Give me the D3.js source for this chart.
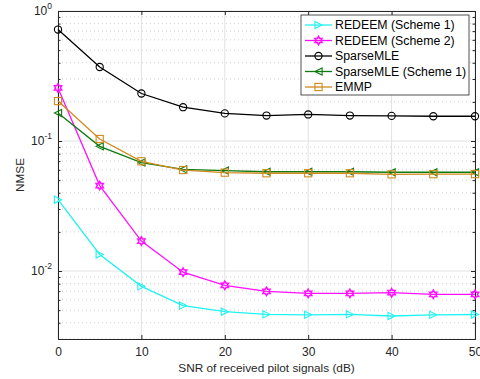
<!DOCTYPE html>
<html>
<head>
<meta charset="utf-8">
<script src="https://cdn.jsdelivr.net/npm/d3@7"></script>
<style>
  body { margin: 0; background: #fff; }
  svg text { font-family: "Liberation Sans", Arial, sans-serif; }
</style>
</head>
<body>
<svg id="chart" width="480" height="379"></svg>
<script>
var snr = [0, 5, 10, 15, 20, 25, 30, 35, 40, 45, 50];

var redeem1 = [0.0354, 0.0134, 0.00762, 0.00542, 0.00487, 0.00464, 0.0046, 0.00464, 0.00451, 0.0046, 0.00463];
var redeem2 = [0.256, 0.0454, 0.017, 0.0098, 0.00776, 0.00698, 0.00673, 0.00673, 0.00681, 0.00662, 0.00662];
var sparseMLE = [0.72, 0.371, 0.232, 0.182, 0.163, 0.157, 0.16, 0.157, 0.156, 0.155, 0.155];
var sparseMLE1 = [0.164, 0.091, 0.0682, 0.0606, 0.0592, 0.058, 0.058, 0.058, 0.0575, 0.0575, 0.0575];
var emmp = [0.203, 0.1036, 0.0698, 0.0598, 0.0571, 0.0565, 0.0565, 0.0565, 0.0554, 0.0556, 0.0556];

var xTicks = [0, 10, 20, 30, 40, 50];
var yDecades = [-2, -1, 0];

var series = [
  {name: "REDEEM (Scheme 1)", values: redeem1, color: "#22f2f2", marker: "triR"},
  {name: "REDEEM (Scheme 2)", values: redeem2, color: "#ff10ff", marker: "hex"},
  {name: "SparseMLE", values: sparseMLE, color: "#000000", marker: "circle"},
  {name: "SparseMLE (Scheme 1)", values: sparseMLE1, color: "#0f7a0f", marker: "triL"},
  {name: "EMMP", values: emmp, color: "#d08a1e", marker: "square"}
];

var svg = d3.select("#chart");
var margin = {top: 11, right: 5, bottom: 40, left: 58},
    width = +svg.attr("width") - margin.left - margin.right,
    height = +svg.attr("height") - margin.top - margin.bottom,
    g = svg.append("g").attr("transform", "translate(" + margin.left + "," + margin.top + ")");

var x = d3.scaleLinear().domain([0, 50]).range([0, width]);
var y = d3.scaleLog().domain([0.003, 1]).range([height, 0]);

// minor y values
var minor = [];
[-3, -2, -1].forEach(function(e) {
  for (var k = 2; k <= 9; k++) {
    var v = k * Math.pow(10, e);
    if (v >= 0.003 && v < 1) minor.push(v);
  }
});

// grid
g.append("g").selectAll("line").data(minor).enter().append("line")
  .attr("x1", 0).attr("x2", width)
  .attr("y1", function(d) { return y(d); }).attr("y2", function(d) { return y(d); })
  .attr("stroke", "#d0d0d0").attr("stroke-width", 1).attr("stroke-dasharray", "1,3");

g.append("g").selectAll("line").data(yDecades).enter().append("line")
  .attr("x1", 0).attr("x2", width)
  .attr("y1", function(d) { return y(Math.pow(10, d)); }).attr("y2", function(d) { return y(Math.pow(10, d)); })
  .attr("stroke", "#e2e2e2").attr("stroke-width", 1);

g.append("g").selectAll("line").data(xTicks).enter().append("line")
  .attr("x1", function(d) { return x(d); }).attr("x2", function(d) { return x(d); })
  .attr("y1", 0).attr("y2", height)
  .attr("stroke", "#e2e2e2").attr("stroke-width", 1);

// axes (ticks inward, box)
g.append("g").attr("transform", "translate(0," + height + ")")
  .call(d3.axisBottom(x).tickValues(xTicks).tickSize(-4).tickPadding(8).tickFormat(d3.format("d")))
  .call(function(a) {
    a.select(".domain").attr("stroke", "#262626");
    a.selectAll(".tick line").attr("stroke", "#262626");
    a.selectAll(".tick text").attr("font-size", 12).attr("fill", "#262626")
      .attr("font-family", "Liberation Sans, Arial, sans-serif");
  });

g.append("g")
  .call(d3.axisTop(x).tickValues(xTicks).tickSize(-4).tickFormat(""))
  .call(function(a) {
    a.select(".domain").attr("stroke", "#262626");
    a.selectAll(".tick line").attr("stroke", "#262626");
  });

var yAll = minor.concat(yDecades.map(function(d) { return Math.pow(10, d); }));

g.append("g")
  .call(d3.axisLeft(y).tickValues(yAll).tickSize(-4).tickFormat(""))
  .call(function(a) {
    a.select(".domain").attr("stroke", "#262626");
    a.selectAll(".tick line").attr("stroke", "#262626")
      .attr("x2", function(d) { return minor.indexOf(d) >= 0 ? 2.5 : 4; });
  });

g.append("g").attr("transform", "translate(" + width + ",0)")
  .call(d3.axisRight(y).tickValues(yAll).tickSize(-4).tickFormat(""))
  .call(function(a) {
    a.select(".domain").attr("stroke", "#262626");
    a.selectAll(".tick line").attr("stroke", "#262626")
      .attr("x2", function(d) { return minor.indexOf(d) >= 0 ? -2.5 : -4; });
  });

// y decade labels 10^e
var ylab = g.append("g").selectAll("text").data(yDecades).enter().append("text")
  .attr("x", -6)
  .attr("y", function(d) { return y(Math.pow(10, d)) + 4; })
  .attr("text-anchor", "end")
  .attr("font-size", 12)
  .attr("fill", "#262626");
ylab.append("tspan").text("10");
ylab.append("tspan").attr("dy", -6).attr("font-size", 8.5).text(function(d) { return d; });

// lines
var line = d3.line()
  .x(function(d, i) { return x(snr[i]); })
  .y(function(d) { return y(d); });

function drawMarker(sel, type, color) {
  var s = 3.6;
  if (type === "circle") {
    sel.append("circle").attr("r", s).attr("fill", "none").attr("stroke", color).attr("stroke-width", 1.1);
  } else if (type === "square") {
    sel.append("rect").attr("x", -s).attr("y", -s).attr("width", 2 * s).attr("height", 2 * s)
      .attr("fill", "none").attr("stroke", color).attr("stroke-width", 1.1);
  } else if (type === "triR") {
    sel.append("path").attr("d", "M" + (-s) + "," + (-s) + "L" + s + ",0L" + (-s) + "," + s + "Z")
      .attr("fill", "none").attr("stroke", color).attr("stroke-width", 1.1);
  } else if (type === "triL") {
    sel.append("path").attr("d", "M" + s + "," + (-s) + "L" + (-s) + ",0L" + s + "," + s + "Z")
      .attr("fill", "none").attr("stroke", color).attr("stroke-width", 1.1);
  } else if (type === "hex") {
    var r = 4.2, pts = [];
    for (var k = 0; k < 12; k++) {
      var a = Math.PI / 2 + k * Math.PI / 6;
      var rr = k % 2 === 0 ? r : r * 0.58;
      pts.push([rr * Math.cos(a), -rr * Math.sin(a)]);
    }
    sel.append("path").attr("d", "M" + pts.map(function(p) { return p.join(","); }).join("L") + "Z")
      .attr("fill", "none").attr("stroke", color).attr("stroke-width", 1.5);
  }
}

var plot = g.append("g");
series.forEach(function(s) {
  plot.append("path").datum(s.values)
    .attr("fill", "none").attr("stroke", s.color).attr("stroke-width", 1.3)
    .attr("d", line);
  plot.selectAll(null).data(s.values).enter().append("g")
    .attr("transform", function(d, i) { return "translate(" + x(snr[i]) + "," + y(d) + ")"; })
    .each(function() { drawMarker(d3.select(this), s.marker, s.color); });
});

// axis labels
g.append("text")
  .attr("transform", "translate(" + (width / 2) + "," + (height + 33) + ")")
  .attr("text-anchor", "middle")
  .attr("font-size", 11.8)
  .attr("fill", "#262626")
  .text("SNR of received pilot signals (dB)");

g.append("text")
  .attr("transform", "translate(" + (-34) + "," + (height / 2) + ") rotate(-90)")
  .attr("text-anchor", "middle")
  .attr("font-size", 11.8)
  .attr("fill", "#262626")
  .text("NMSE");

// legend
var legend = svg.append("g").attr("transform", "translate(301,15)");
legend.append("rect").attr("width", 168).attr("height", 80)
  .attr("fill", "#fff").attr("stroke", "#262626").attr("stroke-width", 0.8);

var item = legend.selectAll("g.item").data(series).enter().append("g")
  .attr("class", "item")
  .attr("transform", function(d, i) { return "translate(0," + (10 + i * 15.5) + ")"; });

item.append("line").attr("x1", 4).attr("x2", 31)
  .attr("stroke", function(d) { return d.color; }).attr("stroke-width", 1.3);
item.append("g").attr("transform", "translate(17.5,0)")
  .each(function(d) { drawMarker(d3.select(this), d.marker, d.color); });
item.append("text").attr("x", 34).attr("dy", "0.35em")
  .attr("font-size", 12.3).attr("fill", "#000")
  .text(function(d) { return d.name; });
</script>
</body>
</html>
